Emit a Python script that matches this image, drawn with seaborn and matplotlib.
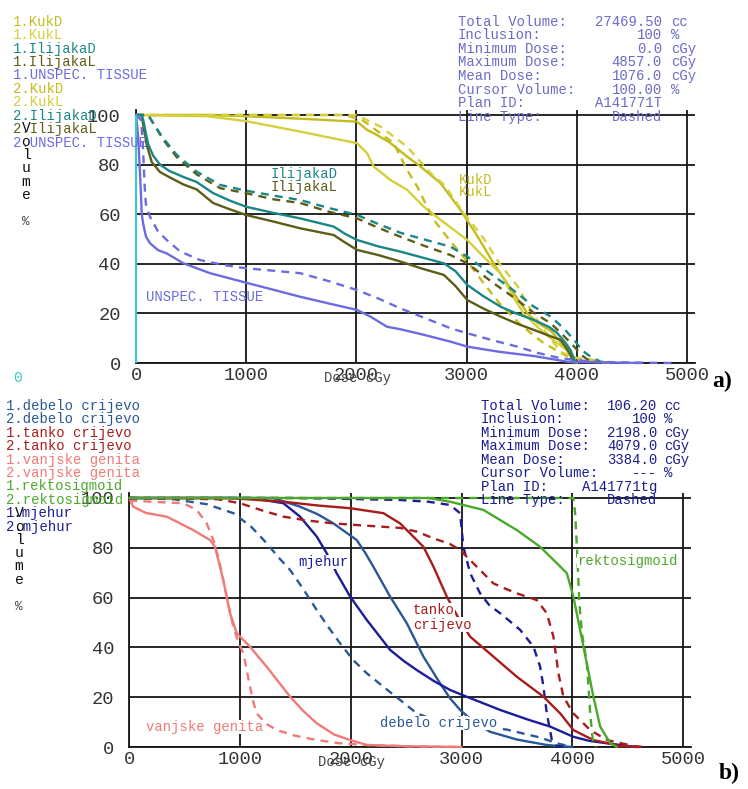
import matplotlib
matplotlib.use('Agg')
import matplotlib.pyplot as plt
import pandas as pd
import seaborn as sns

# ---------------- data: panel a ----------------
x_ticks = [0, 1000, 2000, 3000, 4000, 5000]
y_ticks = [0, 20, 40, 60, 80, 100]

kukd_1_dose = [0, 650, 1000, 1500, 2006, 2097, 2160, 2300, 2461, 2582, 2764, 2945, 3100, 3248, 3400, 3552, 3650, 3764, 3860, 3945, 4000]
kukd_1_vol = [100, 100, 99.5, 98.5, 97.3, 94, 92.6, 89, 83.2, 79.2, 72.5, 61.7, 51, 40, 30, 20, 16, 13, 8, 3, 0]
kukl_1_dose = [0, 650, 1000, 1491, 1855, 2006, 2097, 2157, 2309, 2461, 2612, 2764, 3006, 3150, 3309, 3420, 3515, 3703, 3915, 3976]
kukl_1_vol = [100, 99.5, 97.5, 93.3, 90, 88.6, 84.6, 79.2, 73.8, 69.8, 63, 57.7, 49.6, 43, 36, 27, 20, 12, 5, 0]
kukd_2_dose = [0, 1900, 2050, 2097, 2218, 2339, 2461, 2552, 2642, 2703, 2855, 3006, 3158, 3300, 3500, 3700, 3900, 4100, 4250]
kukd_2_vol = [100, 100, 98, 96.6, 92.6, 88.6, 77.8, 71.1, 63, 57.7, 49, 41, 32, 24, 15, 8, 3, 1, 0]
kukl_2_dose = [0, 2000, 2218, 2461, 2673, 2794, 2950, 3158, 3300, 3461, 3600, 3703, 3855, 4000, 4127, 4300]
kukl_2_vol = [100, 100, 95.3, 87.2, 76.5, 72, 62, 50, 40, 31, 20, 13.3, 4.4, 2, 1.4, 0]

ilid_1_dose = [0, 50, 66, 97, 112, 157, 218, 300, 430, 550, 700, 850, 1000, 1250, 1491, 1794, 1900, 2006, 2200, 2400, 2600, 2794, 2900, 3006, 3150, 3309, 3450, 3612, 3750, 3824, 3900, 3945, 3990]
ilid_1_vol = [100, 100, 98, 91, 88, 83.5, 80, 77.5, 75, 73, 68.5, 65.5, 63, 60.5, 58.3, 55, 52, 49.6, 47, 44.9, 42.5, 40.2, 37, 31.5, 27, 22.7, 20, 17.3, 14.5, 12, 8, 5, 0]
ilil_1_dose = [0, 50, 97, 143, 218, 300, 430, 550, 700, 850, 997, 1250, 1491, 1794, 1900, 2006, 2200, 2400, 2600, 2794, 2900, 3006, 3150, 3309, 3450, 3612, 3750, 3855, 3920, 3945, 3975]
ilil_1_vol = [100, 100, 88, 81, 77, 75, 72, 70, 64.5, 62, 59.7, 57, 54.3, 51.6, 48.5, 45.6, 43.5, 40.9, 38, 35.5, 31, 25.4, 22, 18.7, 16, 13.3, 11, 9.3, 5, 3, 0]
ilid_2_dose = [0, 110, 180, 248, 370, 552, 764, 997, 1250, 1491, 1750, 2006, 2200, 2400, 2600, 2855, 3006, 3250, 3461, 3600, 3764, 3880, 3976, 4050, 4127, 4218, 4300]
ilid_2_vol = [100, 100, 95, 90.6, 83.9, 77.1, 71.8, 69.5, 67.5, 65.7, 62.5, 59.7, 56, 52.5, 50, 46.9, 42.9, 35, 28.1, 23, 18.7, 14, 9.3, 5, 2.5, 0.5, 0]
ilil_2_dose = [0, 110, 180, 248, 370, 552, 764, 997, 1250, 1491, 1750, 2006, 2200, 2400, 2600, 2855, 3006, 3250, 3461, 3600, 3764, 3880, 3976, 4050, 4097, 4200]
ilil_2_vol = [100, 100, 95, 90, 83, 76, 70.5, 68.5, 66, 64.5, 61, 58.3, 54.5, 50.9, 47.5, 43.5, 40.2, 32, 25.4, 20.5, 16, 11, 6.6, 3, 1.4, 0]

uns_1_dose = [0, 12, 21, 30, 36, 45, 52, 66, 90, 127, 200, 279, 430, 673, 997, 1250, 1491, 1750, 2006, 2127, 2279, 2400, 2600, 2855, 3006, 3300, 3612, 3915, 4300, 4580]
uns_1_vol = [100, 95, 90, 82, 77, 68, 60, 56, 51, 48.3, 45.5, 44.2, 40.2, 36.2, 32.4, 29.5, 26.7, 24, 21.4, 18.7, 14.6, 13.6, 11.5, 8.6, 6.6, 4.5, 2.8, 0.5, 0.2, 0]
uns_2_dose = [0, 45, 60, 70, 80, 90, 110, 127, 200, 279, 400, 582, 800, 997, 1250, 1491, 1750, 2006, 2200, 2400, 2600, 2855, 3006, 3250, 3461, 3650, 3855, 4145, 4500, 4857]
uns_2_vol = [100, 98, 90, 80, 70, 64, 61, 59, 53, 49.6, 45, 41.5, 39.5, 38.2, 37.2, 36.2, 33, 29.4, 26, 22, 18.5, 14, 12, 9, 6.6, 4, 1.9, 0.5, 0.2, 0]

cursor_dose = 0

# ---------------- data: panel b ----------------
deb_1_dose = [0, 1300, 1542, 1700, 1843, 2054, 2130, 2204, 2355, 2506, 2656, 2806, 2897, 2987, 3100, 3258, 3500, 3770, 4000]
deb_1_vol = [100, 100, 96.5, 93.5, 89.8, 83.1, 78, 72.4, 60.4, 49.7, 36.3, 25.6, 19.5, 14.9, 10.5, 6.1, 3, 0.8, 0]
deb_2_dose = [0, 400, 700, 940, 1100, 1241, 1350, 1452, 1570, 1693, 1800, 1904, 2020, 2145, 2300, 2445, 2596, 2750, 3000, 3200, 3408, 3710, 3860, 4000]
deb_2_vol = [100, 99.5, 97.5, 93.9, 88.5, 81.8, 76, 71.1, 63.5, 55, 48, 41.6, 35, 29.6, 24, 18.9, 13.5, 11, 9, 8, 7, 3.8, 1.5, 0]
tan_1_dose = [0, 900, 1392, 1700, 1994, 2295, 2445, 2596, 2656, 2747, 2867, 2970, 3078, 3288, 3500, 3740, 3891, 4010, 4191, 4433, 4600]
tan_1_vol = [100, 100, 98.5, 97, 95.9, 93.9, 89.8, 83.1, 80.4, 72.4, 60.4, 52, 44.3, 36.3, 28.2, 20.2, 13.5, 6.8, 2.8, 0.4, 0]
tan_2_dose = [0, 800, 1000, 1200, 1392, 1600, 1843, 2100, 2445, 2596, 2747, 2897, 2987, 3138, 3288, 3400, 3500, 3680, 3770, 3830, 3875, 3920, 4010, 4162, 4313, 4554, 4650]
tan_2_vol = [100, 99.5, 97.9, 95, 92.5, 91, 89.8, 89, 88, 86.5, 83.8, 81.5, 79.1, 72.4, 65.7, 63.5, 61.7, 59, 53.7, 44.3, 29.6, 20.2, 13.5, 6.8, 2.8, 0.4, 0]
van_1_dose = [0, 36, 150, 338, 450, 578, 729, 774, 810, 849, 880, 910, 970, 1030, 1090, 1160, 1241, 1350, 1452, 1570, 1693, 1850, 1994, 2145, 2500, 3000]
van_1_vol = [100, 96.5, 94, 92.5, 90, 87.1, 83.1, 80.4, 74, 67, 60, 53.7, 45.7, 43, 40.3, 36.5, 32.2, 26, 20.2, 14.5, 9.5, 5, 2.8, 0.8, 0.3, 0]
van_2_dose = [0, 200, 488, 609, 699, 759, 810, 849, 900, 940, 985, 1030, 1060, 1090, 1120, 1151, 1230, 1332, 1500, 1693, 1900, 2145, 2600, 3000]
van_2_vol = [99, 98.5, 97.9, 95.2, 89.8, 83.1, 75, 67, 56, 48.3, 42, 37.6, 31, 24.2, 18, 13.5, 9.5, 6.8, 4.5, 2.8, 1.5, 0.8, 0.2, 0]
rek_1_dose = [0, 2700, 2897, 3198, 3500, 3710, 3861, 3951, 4010, 4071, 4131, 4191, 4252, 4343, 4403]
rek_1_vol = [100, 100, 98.5, 95.2, 87.1, 80.4, 73.8, 69.8, 60.4, 47, 33.6, 20.2, 8.2, 1.5, 0]
rek_2_dose = [0, 4010, 4026, 4042, 4060, 4071, 4090, 4131, 4150, 4162, 4180, 4192, 4220]
rek_2_vol = [100, 100, 94, 80, 62, 54, 45, 34, 22, 13.5, 5, 1.5, 0]
mje_1_dose = [0, 1100, 1392, 1542, 1693, 1780, 1874, 1994, 2145, 2250, 2355, 2480, 2596, 2750, 2897, 3046, 3200, 3348, 3600, 3800, 4010, 4150, 4313, 4575]
mje_1_vol = [100, 100, 97.9, 92.5, 84.5, 78, 69.7, 60.4, 51, 45, 39, 34.5, 30.9, 26.5, 22.9, 20.2, 17.5, 14.9, 11, 8.2, 4.1, 2.5, 1.5, 0]
mje_2_dose = [0, 1500, 2000, 2445, 2700, 2897, 2987, 3017, 3078, 3168, 3250, 3349, 3450, 3530, 3650, 3710, 3740, 3770, 3816, 3860, 3950]
mje_2_vol = [100, 100, 99.6, 99.2, 98.5, 97.2, 93.9, 80.4, 69.8, 61.7, 57, 53.7, 50, 47, 40.3, 32.2, 24.2, 13.5, 2.8, 0.4, 0]

# legends / info text
top_legend = ['1.KukD', '1.KukL', '1.IlijakaD', '1.IlijakaL', '1.UNSPEC. TISSUE',
              '2.KukD', '2.KukL', '2.IlijakaD', '2.IlijakaL', '2.UNSPEC. TISSUE']
bot_legend = ['1.debelo crijevo', '2.debelo crijevo', '1.tanko crijevo', '2.tanko crijevo',
              '1.vanjske genita', '2.vanjske genita', '1.rektosigmoid', '2.rektosigmoid',
              '1.mjehur', '2.mjehur']
info_labels = ['Total Volume:', 'Inclusion:', 'Minimum Dose:', 'Maximum Dose:', 'Mean Dose:',
               'Cursor Volume:', 'Plan ID:', 'Line Type:']
top_info_values = ['27469.50', '100', '0.0', '4857.0', '1076.0', '100.00', 'A141771T', 'Dashed']
bot_info_values = ['106.20', '100', '2198.0', '4079.0', '3384.0', '---', 'A141771tg', 'Dashed']
info_units = ['cc', '%', 'cGy', 'cGy', 'cGy', '%', '', '']

# ---------------- styles ----------------
C_KUKD = '#c4bc1c'
C_KUKL = '#d4cf3c'
C_ILID = '#1a8686'
C_ILIL = '#5e5c16'
C_UNS = '#6c6ce0'
C_DEB = '#2a5896'
C_TAN = '#a81c1c'
C_VAN = '#f07a78'
C_REK = '#4aa82a'
C_MJE = '#1c1c98'

top_series = [
    ('KukD 1', kukd_1_dose, kukd_1_vol, C_KUKD, '-'),
    ('KukL 1', kukl_1_dose, kukl_1_vol, C_KUKL, '-'),
    ('KukD 2', kukd_2_dose, kukd_2_vol, C_KUKD, '--'),
    ('KukL 2', kukl_2_dose, kukl_2_vol, C_KUKL, '--'),
    ('IlijakaL 2', ilil_2_dose, ilil_2_vol, C_ILIL, '--'),
    ('IlijakaD 2', ilid_2_dose, ilid_2_vol, C_ILID, '--'),
    ('IlijakaL 1', ilil_1_dose, ilil_1_vol, C_ILIL, '-'),
    ('IlijakaD 1', ilid_1_dose, ilid_1_vol, C_ILID, '-'),
    ('UNSPEC 2', uns_2_dose, uns_2_vol, C_UNS, '--'),
    ('UNSPEC 1', uns_1_dose, uns_1_vol, C_UNS, '-'),
]
bot_series = [
    ('vanjske 1', van_1_dose, van_1_vol, C_VAN, '-'),
    ('vanjske 2', van_2_dose, van_2_vol, C_VAN, '--'),
    ('debelo 2', deb_2_dose, deb_2_vol, C_DEB, '--'),
    ('debelo 1', deb_1_dose, deb_1_vol, C_DEB, '-'),
    ('mjehur 1', mje_1_dose, mje_1_vol, C_MJE, '-'),
    ('mjehur 2', mje_2_dose, mje_2_vol, C_MJE, '--'),
    ('tanko 1', tan_1_dose, tan_1_vol, C_TAN, '-'),
    ('tanko 2', tan_2_dose, tan_2_vol, C_TAN, '--'),
    ('rekto 1', rek_1_dose, rek_1_vol, C_REK, '-'),
    ('rekto 2', rek_2_dose, rek_2_vol, C_REK, '--'),
]

sns.set_theme(style='white')
plt.rcParams['font.family'] = ['Liberation Mono', 'DejaVu Sans Mono']

W, H = 748, 789
fig = plt.figure(figsize=(W / 100, H / 100), dpi=100)
fig.patch.set_facecolor('white')

XMAX, YMAX = 5070, 102


def make_axes(x0, x5000, y100, y0):
    sx = (x5000 - x0) / 5000.0
    sy = (y0 - y100) / 100.0
    ax = fig.add_axes([x0 / W, (H - y0) / H, XMAX * sx / W, YMAX * sy / H])
    ax.set_facecolor('white')
    return ax


def style_axes(ax):
    ax.set_xlim(0, XMAX)
    ax.set_ylim(0, YMAX)
    ax.set_xticks(x_ticks)
    ax.set_yticks(y_ticks)
    ax.set_xticklabels([str(t) for t in x_ticks])
    ax.set_yticklabels([str(t) for t in y_ticks])
    ax.grid(True, color='#151515', lw=1.3)
    ax.set_axisbelow(True)
    for s in ['top', 'right']:
        ax.spines[s].set_visible(False)
    for s in ['left', 'bottom']:
        ax.spines[s].set_color('#151515')
        ax.spines[s].set_linewidth(1.3)
    ax.tick_params(axis='y', direction='out', length=8, width=1.3, pad=3,
                   labelsize=13.5, colors='#151515', labelcolor='#333333')
    ax.tick_params(axis='x', direction='out', length=2, width=1.3, pad=1,
                   labelsize=13.5, colors='#151515', labelcolor='#333333')
    ax.set_xlabel('')
    ax.set_ylabel('')


def draw_series(ax, series):
    rows = []
    for name, d, v, c, ls in series:
        for a, b in zip(d, v):
            rows.append((name, a, b))
    df = pd.DataFrame(rows, columns=['series', 'dose', 'volume'])
    for name, d, v, c, ls in series:
        sub = df[df['series'] == name]
        style = '-' if ls == '-' else (0, (3.4, 2.6))
        sns.lineplot(data=sub, x='dose', y='volume', ax=ax, color=c, linestyle=style,
                     lw=1.7, sort=False, estimator=None, clip_on=False, zorder=3)


def ftext(x, y, s, **kw):
    kw.setdefault('va', 'center')
    kw.setdefault('fontsize', 10)
    return fig.text(x / W, 1 - y / H, s, **kw)


# ---------------- panel a ----------------
ax1 = make_axes(136, 687, 115, 363)
draw_series(ax1, top_series)
ax1.vlines([cursor_dose], 0, 100, color='#3fc6c6', lw=1.6, zorder=4, clip_on=False)
style_axes(ax1)

# ---------------- panel b ----------------
ax2 = make_axes(129.3, 683, 498, 747)
draw_series(ax2, bot_series)
style_axes(ax2)

# legends
top_leg_colors = [C_KUKD, C_KUKL, C_ILID, C_ILIL, C_UNS, C_KUKD, C_KUKL, C_ILID, C_ILIL, C_UNS]
for i, (s, c) in enumerate(zip(top_legend, top_leg_colors)):
    ftext(13, 21.7 + i * 13.44, s, color=c)
bot_leg_colors = [C_DEB, C_DEB, C_TAN, C_TAN, C_VAN, C_VAN, C_REK, C_REK, C_MJE, C_MJE]
for i, (s, c) in enumerate(zip(bot_legend, bot_leg_colors)):
    ftext(6, 406 + i * 13.4, s, color=c)

# vertical "Volume %" labels
for (ys, x) in [([128, 142, 155, 168, 182, 195], 26), ([513, 527, 540, 553, 566, 580], 19)]:
    for ch, y in zip('Volume', ys):
        ftext(x, y, ch, color='#111111', ha='center', fontsize=10.5)
ftext(26, 222, '%', color='#444444', ha='center', fontsize=9)
ftext(19, 607, '%', color='#444444', ha='center', fontsize=9)

# info boxes
for i, (lab, val, unit) in enumerate(zip(info_labels, top_info_values, info_units)):
    y = 21.7 + i * 13.57
    ftext(458, y, lab, color='#6a6ac8')
    ftext(662, y, val, color='#6a6ac8', ha='right')
    if unit:
        ftext(671, y, unit, color='#6a6ac8')
for i, (lab, val, unit) in enumerate(zip(info_labels, bot_info_values, info_units)):
    y = 406 + i * 13.43
    ftext(481, y, lab, color='#1c1c90')
    ftext(657, y, val, color='#1c1c90', ha='right')
    if unit:
        ftext(664, y, unit, color='#1c1c90')

# in-plot structure labels
box = dict(facecolor='white', edgecolor='none', pad=0.3)
ftext(271, 174, 'IlijakaD', color=C_ILID)
ftext(271, 187.5, 'IlijakaL', color=C_ILIL)
ftext(459, 180, 'KukD', color=C_KUKD)
ftext(459, 192.5, 'KukL', color=C_KUKD)
ftext(146, 297, 'UNSPEC. TISSUE', color=C_UNS)
ftext(298, 562, 'mjehur', color=C_MJE, bbox=box, zorder=10)
ftext(413, 610, 'tanko', color=C_TAN, bbox=box, zorder=10)
ftext(413, 624.5, 'crijevo', color=C_TAN, bbox=box, zorder=10)
ftext(146, 727, 'vanjske genita', color=C_VAN, bbox=box, zorder=10)
ftext(380, 723, 'debelo crijevo', color=C_DEB, bbox=box, zorder=10)
ftext(577, 561, 'rektosigmoid', color=C_REK, bbox=box, zorder=10)

# axis titles
ftext(357, 378, 'Dose cGy', color='#444444', ha='center')
ftext(351, 762, 'Dose cGy', color='#444444', ha='center')
ftext(17, 378, '0', color='#3fc6c6', ha='center', fontsize=10.5)

# panel letters
ftext(712, 381, 'a)', family='Liberation Serif', fontweight='bold', fontsize=17, color='black')
ftext(719, 773, 'b)', family='Liberation Serif', fontweight='bold', fontsize=17, color='black')

fig.savefig('out.png', dpi=100, facecolor='white')
